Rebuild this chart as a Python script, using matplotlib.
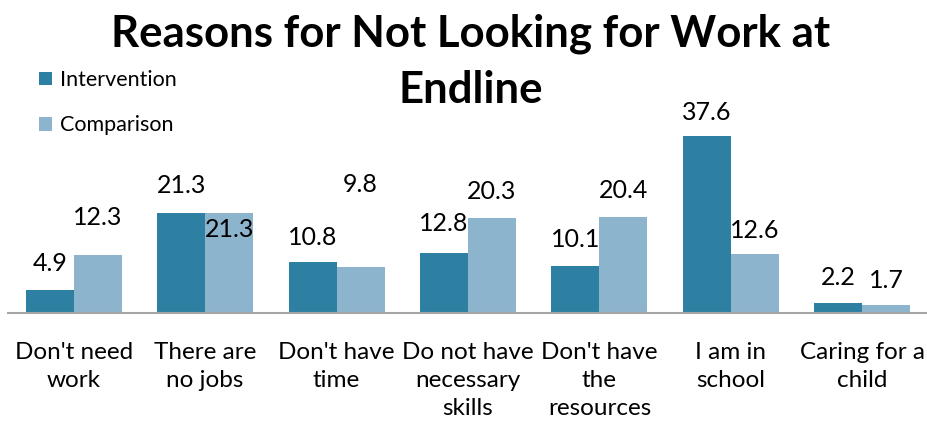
import matplotlib.pyplot as plt
import numpy as np

categories = ["Don't need\nwork", "There are\nno jobs", "Don't have\ntime",
              "Do not have\nnecessary\nskills", "Don't have\nthe\nresources",
              "I am in\nschool", "Caring for a\nchild"]
intervention = [4.9, 21.3, 10.8, 12.8, 10.1, 37.6, 2.2]
comparison = [12.3, 21.3, 9.8, 20.3, 20.4, 12.6, 1.7]
# where the data labels sit above the bar tops (points), as in the original
int_label_shift = [19, 20, 18, 21, 19, 17, 18]
cmp_label_shift = [27, -12, 59, 19, 19, 17, 18]

plt.rcParams['font.family'] = ['Lato', 'DejaVu Sans']

fig = plt.figure(figsize=(9.28, 4.21), dpi=100)
ax = fig.add_axes([8 / 928, 108 / 421, 920 / 928, 188 / 421])

x = np.arange(len(categories))
w = 0.365
c_int = '#2E80A3'
c_cmp = '#8DB4CD'
ax.bar(x - w / 2, intervention, w, color=c_int, label='Intervention')
ax.bar(x + w / 2, comparison, w, color=c_cmp, label='Comparison')

for xi, v, s in zip(x, intervention, int_label_shift):
    ax.annotate(f'{v:.1f}', (xi - w / 2, v), xytext=(0, s), textcoords='offset points',
                ha='center', va='center', fontsize=18)
for xi, v, s in zip(x, comparison, cmp_label_shift):
    ax.annotate(f'{v:.1f}', (xi + w / 2, v), xytext=(0, s), textcoords='offset points',
                ha='center', va='center', fontsize=18)

ax.set_xlim(-0.5, len(categories) - 0.5)
ax.set_ylim(0, 40)
ax.set_xticks(x)
ax.set_xticklabels(categories, fontsize=17.5, linespacing=1.4, va='top')
ax.tick_params(axis='x', length=0, pad=21)
ax.set_yticks([])
for side in ['top', 'right', 'left']:
    ax.spines[side].set_visible(False)
ax.spines['bottom'].set_color('#A6A6A6')
ax.spines['bottom'].set_linewidth(1.5)

fig.text(471 / 928, 1 - 61.5 / 421, 'Reasons for Not Looking for Work at\nEndline',
         ha='center', va='center', fontsize=31.5, fontweight='bold', linespacing=1.47)

fig.legend(loc='upper left', bbox_to_anchor=(0.0325, 0.854), frameon=False, fontsize=15.5,
           handlelength=0.6, handleheight=0.6, handletextpad=0.4, labelspacing=1.18,
           borderaxespad=0)

plt.savefig('out.png', dpi=100)
